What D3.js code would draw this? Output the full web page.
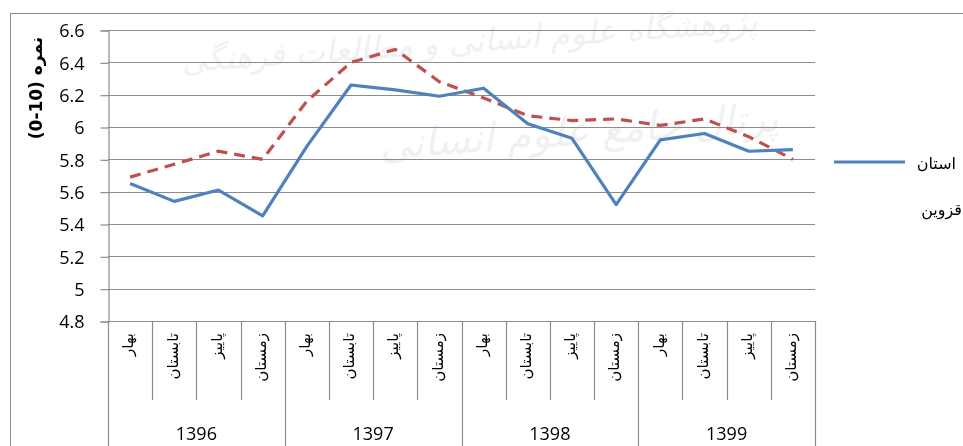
<!DOCTYPE html>
<html>
<head>
<meta charset="utf-8">
<script src="https://cdn.jsdelivr.net/npm/d3@7"></script>
<style>
  body { margin: 0; background: #fff; }
  svg { display: block; }
</style>
</head>
<body>
<div id="chart"></div>
<script>
// data
var years = ['1396', '1397', '1398', '1399'];
var seasons = ['بهار', 'تابستان', 'پاییز', 'زمستان'];
var province = [5.65, 5.54, 5.61, 5.45, 5.88, 6.26, 6.23, 6.19, 6.24, 6.02, 5.93, 5.52, 5.92, 5.96, 5.85, 5.86];
var country = [5.69, 5.77, 5.85, 5.80, 6.16, 6.40, 6.48, 6.28, 6.18, 6.07, 6.04, 6.05, 6.01, 6.05, 5.94, 5.80];
var yTicks = [4.8, 5, 5.2, 5.4, 5.6, 5.8, 6, 6.2, 6.4, 6.6];
var yTitle = '(0-10) نمره';
var legendText = ['استان', 'قزوین'];

var W = 963, H = 446;
var plotLeft = 108, plotRight = 815, plotTop = 30, plotBottom = 321;

var svg = d3.select('#chart').append('svg').attr('width', W).attr('height', H);

// outer chart border (runs off the picture on the right and bottom)
svg.append('rect')
    .attr('x', 10.5).attr('y', 13.5)
    .attr('width', 1000).attr('height', 500)
    .attr('fill', 'none')
    .attr('stroke', '#8c8c8c')
    .attr('stroke-width', 1);

// faint watermark of the source document
var wm = svg.append('g').attr('fill', '#000').attr('opacity', 0.06)
    .attr('font-family', 'DejaVu Sans').attr('font-style', 'italic');
wm.append('text').attr('x', 470).attr('y', 52).attr('text-anchor', 'middle')
    .attr('font-size', 32).attr('transform', 'rotate(-4,470,52)')
    .text('پژوهشگاه علوم انسانی و مطالعات فرهنگی');
wm.append('text').attr('x', 580).attr('y', 145).attr('text-anchor', 'middle')
    .attr('font-size', 40).attr('transform', 'rotate(-4,580,145)')
    .text('پرتال جامع علوم انسانی');

var labels = d3.range(province.length);

var x = d3.scaleBand().domain(labels).range([plotLeft, plotRight]);
var y = d3.scaleLinear().domain([4.8, 6.6]).range([plotBottom, plotTop]);

// horizontal gridlines
svg.append('g').selectAll('line')
    .data(yTicks)
    .enter()
    .append('line')
    .attr('x1', plotLeft).attr('x2', plotRight)
    .attr('y1', function(d) { return Math.round(y(d)) + 0.5; })
    .attr('y2', function(d) { return Math.round(y(d)) + 0.5; })
    .attr('stroke', '#8c8c8c')
    .attr('stroke-width', 1.2);

// y axis with ticks
var yAxis = svg.append('g')
    .attr('transform', 'translate(' + (plotLeft + 0.5) + ',0.5)')
    .call(d3.axisLeft(y).tickValues(yTicks).tickSize(8).tickPadding(16)
      .tickFormat(function(d) { return String(d); }));
yAxis.select('.domain').attr('stroke', '#8c8c8c').attr('stroke-width', 1.2);
yAxis.selectAll('.tick line').attr('stroke', '#8c8c8c').attr('stroke-width', 1.2);
yAxis.selectAll('.tick text')
    .attr('font-family', 'Open Sans')
    .attr('font-size', 18)
    .attr('fill', '#000')
    .attr('dy', '0.35em');

// y axis title
svg.append('text')
    .attr('transform', 'translate(42,88) rotate(-90)')
    .attr('text-anchor', 'middle')
    .attr('font-family', 'DejaVu Sans')
    .attr('font-weight', 'bold')
    .attr('font-size', 17)
    .attr('fill', '#000')
    .text(yTitle);

// x axis baseline
svg.append('line')
    .attr('x1', plotLeft).attr('x2', plotRight)
    .attr('y1', plotBottom + 0.5).attr('y2', plotBottom + 0.5)
    .attr('stroke', '#8c8c8c').attr('stroke-width', 1.2);

// category dividers, longer ones between years
var edges = d3.range(province.length + 1);
svg.append('g').selectAll('line')
    .data(edges)
    .enter()
    .append('line')
    .attr('x1', function(d) { return Math.round(plotLeft + d * x.bandwidth()) + 0.5; })
    .attr('x2', function(d) { return Math.round(plotLeft + d * x.bandwidth()) + 0.5; })
    .attr('y1', plotBottom)
    .attr('y2', function(d) { return d % seasons.length === 0 ? H + 5 : 400; })
    .attr('stroke', '#8c8c8c')
    .attr('stroke-width', 1.2);

// season labels, rotated
svg.append('g').selectAll('text')
    .data(labels)
    .enter()
    .append('text')
    .attr('transform', function(d) {
      return 'translate(' + (x(d) + x.bandwidth() / 2 - 2) + ',' + (plotBottom + 12) + ') rotate(-90)';
    })
    .attr('text-anchor', 'end')
    .attr('dy', '0.35em')
    .attr('font-family', 'DejaVu Sans')
    .attr('font-size', 15)
    .attr('fill', '#000')
    .text(function(d) { return seasons[d % seasons.length]; });

// year labels
svg.append('g').selectAll('text')
    .data(years)
    .enter()
    .append('text')
    .attr('x', function(d, i) { return plotLeft + (i + 0.5) * seasons.length * x.bandwidth(); })
    .attr('y', 434)
    .attr('dy', '0.35em')
    .attr('text-anchor', 'middle')
    .attr('font-family', 'Open Sans')
    .attr('font-size', 18)
    .attr('fill', '#000')
    .text(function(d) { return d; });

var line = d3.line()
    .x(function(d, i) { return x(i) + x.bandwidth() / 2; })
    .y(function(d) { return y(d); });

svg.append('path')
    .datum(country)
    .attr('d', line)
    .attr('fill', 'none')
    .attr('stroke', '#C0504D')
    .attr('stroke-width', 3.2)
    .attr('stroke-dasharray', '11,7');

svg.append('path')
    .datum(province)
    .attr('d', line)
    .attr('fill', 'none')
    .attr('stroke', '#4F81BD')
    .attr('stroke-width', 3.2)
    .attr('stroke-linejoin', 'round');

// legend
svg.append('line')
    .attr('x1', 834).attr('x2', 905)
    .attr('y1', 162).attr('y2', 162)
    .attr('stroke', '#4F81BD')
    .attr('stroke-width', 3.2);

svg.append('g').selectAll('text')
    .data(legendText)
    .enter()
    .append('text')
    .attr('x', function(d, i) { return i === 0 ? 956 : 962; })
    .attr('y', function(d, i) { return 163 + i * 46; })
    .attr('dy', '0.35em')
    .attr('text-anchor', 'end')
    .attr('font-family', 'DejaVu Sans')
    .attr('font-size', 16)
    .attr('fill', '#000')
    .text(function(d) { return d; });
</script>
</body>
</html>
